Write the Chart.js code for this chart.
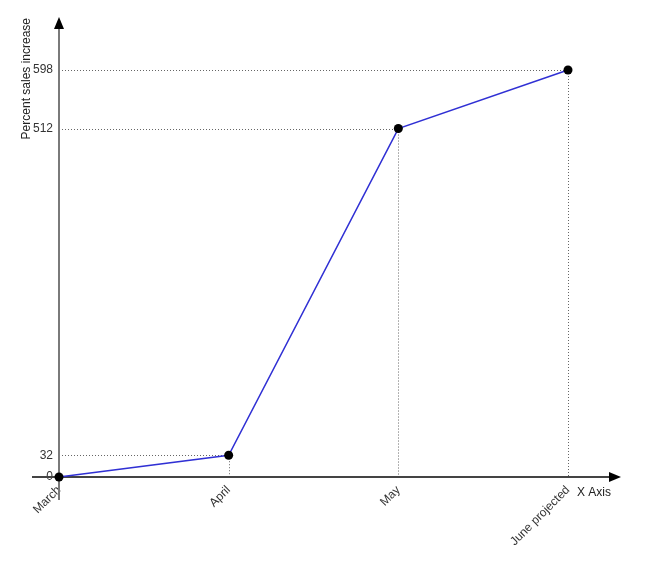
<!DOCTYPE html>
<html>
<head>
<meta charset="utf-8">
<script src="https://cdn.jsdelivr.net/npm/chart.js@4.4.1/dist/chart.umd.min.js"></script>
<style>
  html, body { margin: 0; padding: 0; background: #fff; }
  #wrap { width: 663px; height: 566px; }
</style>
</head>
<body>
<div id="wrap"><canvas id="salesChart" width="663" height="566"></canvas></div>
<script>
// chart data
const months = ['March', 'April', 'May', 'June projected'];
const salesIncrease = [0, 32, 512, 598];
const yTickValues = [0, 32, 512, 598];

const FONT = "'Liberation Sans', Arial, sans-serif";

// axes with arrows, dotted guide lines and axis titles
const axisPlugin = {
    id: 'axisArrows',
    beforeDatasetsDraw(chart) {
        const ctx = chart.ctx;
        const area = chart.chartArea;
        const meta = chart.getDatasetMeta(0);

        // dotted guides from each point to both axes
        ctx.save();
        ctx.strokeStyle = '#666';
        ctx.lineWidth = 1;
        ctx.setLineDash([1, 2]);
        meta.data.forEach(function(pt) {
            ctx.beginPath();
            ctx.moveTo(area.left, Math.round(pt.y) + 0.5);
            ctx.lineTo(pt.x, Math.round(pt.y) + 0.5);
            ctx.moveTo(Math.round(pt.x) + 0.5, pt.y);
            ctx.lineTo(Math.round(pt.x) + 0.5, area.bottom);
            ctx.stroke();
        });
        ctx.restore();

        ctx.save();
        // y axis
        ctx.strokeStyle = '#7a7a7a';
        ctx.fillStyle = '#000';
        ctx.lineWidth = 2;
        ctx.beginPath();
        ctx.moveTo(area.left, 500);
        ctx.lineTo(area.left, 26);
        ctx.stroke();
        ctx.beginPath();
        ctx.moveTo(area.left, 17);
        ctx.lineTo(area.left - 5, 29);
        ctx.lineTo(area.left + 5, 29);
        ctx.closePath();
        ctx.fill();

        // x axis
        ctx.strokeStyle = '#444';
        ctx.beginPath();
        ctx.moveTo(32, area.bottom);
        ctx.lineTo(612, area.bottom);
        ctx.stroke();
        ctx.beginPath();
        ctx.moveTo(621, area.bottom);
        ctx.lineTo(609, area.bottom - 5);
        ctx.lineTo(609, area.bottom + 5);
        ctx.closePath();
        ctx.fill();

        // titles
        ctx.fillStyle = '#222';
        ctx.font = '12px ' + FONT;
        ctx.textBaseline = 'middle';
        ctx.textAlign = 'left';
        ctx.fillText('X Axis', 577, 493);
        ctx.translate(27, 18);
        ctx.rotate(-Math.PI / 2);
        ctx.textAlign = 'right';
        ctx.fillText('Percent sales increase', 0, 0);
        ctx.restore();
    }
};

new Chart(document.getElementById('salesChart'), {
    type: 'line',
    data: {
        labels: months,
        datasets: [{
            data: salesIncrease,
            borderColor: '#3030d4',
            borderWidth: 1.5,
            pointRadius: 4.5,
            pointBackgroundColor: '#000',
            pointBorderColor: '#000',
            pointBorderWidth: 0,
            tension: 0,
            clip: false
        }]
    },
    options: {
        responsive: false,
        animation: false,
        layout: { padding: { left: 0, right: 95, top: 70, bottom: 0 } },
        scales: {
            x: {
                offset: false,
                grid: { display: false, drawTicks: false },
                border: { display: false },
                ticks: {
                    color: '#333',
                    font: { family: FONT, size: 12 },
                    minRotation: 45,
                    maxRotation: 45,
                    padding: 6,
                    autoSkip: false
                },
                afterFit: function(scale) { scale.height = 89; }
            },
            y: {
                min: 0,
                max: 598,
                grid: { display: false, drawTicks: false },
                border: { display: false },
                afterBuildTicks: function(scale) {
                    scale.ticks = yTickValues.map(function(v) { return { value: v }; });
                },
                ticks: {
                    color: '#333',
                    font: { family: FONT, size: 12 },
                    padding: 6
                },
                afterFit: function(scale) { scale.width = 59; }
            }
        },
        plugins: {
            legend: { display: false },
            tooltip: { enabled: false }
        }
    },
    plugins: [axisPlugin]
});
</script>
</body>
</html>
